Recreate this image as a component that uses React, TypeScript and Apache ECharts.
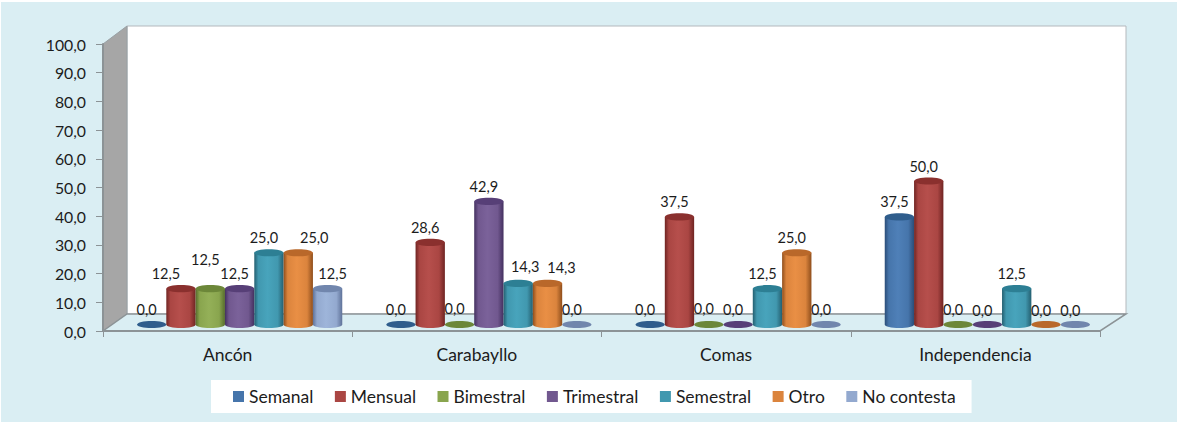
import React, { useEffect, useRef } from "react";
import * as echarts from "echarts";

const categories = ["Ancón", "Carabayllo", "Comas", "Independencia"];
const seriesNames = ["Semanal", "Mensual", "Bimestral", "Trimestral", "Semestral", "Otro", "No contesta"];
const semanal = [0, 0, 0, 37.5];
const mensual = [12.5, 28.6, 37.5, 50];
const bimestral = [12.5, 0, 0, 0];
const trimestral = [12.5, 42.9, 0, 0];
const semestral = [25, 14.3, 12.5, 12.5];
const otro = [25, 14.3, 25, 0];
const noContesta = [12.5, 0, 0, 0];
const seriesValues = [semanal, mensual, bimestral, trimestral, semestral, otro, noContesta];
const yTicks = [0, 10, 20, 30, 40, 50, 60, 70, 80, 90, 100];

const bodyColors = ["#4675ab", "#aa4643", "#89a54e", "#71588f", "#4198af", "#db843d", "#93a9cf"];
const topColors = ["#2f5d8c", "#8a302e", "#6c8739", "#573f77", "#2d7f94", "#b9682a", "#7186ad"];
const darkEdges = ["#2a4d78", "#6f2422", "#566c2c", "#43305f", "#245f70", "#8f4e1c", "#5f7299"];
const lightMids = ["#4f80b8", "#b64f4c", "#94b058", "#7b629a", "#48a4bc", "#e98f45", "#9eb5da"];

// Hand-placed data labels in the reference: [category, series, dx, dy] relative to the default spot
const labelNudges: number[][] = [
  [0, 1, -10, 0],
  [0, 2, 0, -14],
  [0, 5, 21, 0],
  [0, 6, 10, 0],
  [1, 2, 0, -1],
  [1, 4, 12, -2],
  [1, 5, 19, -1],
  [2, 2, 0, -1],
  [3, 3, 0, 1],
  [3, 5, 0, 1],
  [3, 6, 0, 1],
];

const FONT = "Lato";
const TEXT = "#1c1c1c";
const depthX = 12;
const depthY = -6.5;

function fmt(v: number) {
  return v.toFixed(1).replace(".", ",");
}

function renderCylinder(seriesIndex: number) {
  return (params: any, api: any) => {
    const cat = api.value(0);
    const val = api.value(1);
    const band = api.size([1, 0])[0];
    const step = band / 8.5;
    const top = api.coord([cat, val]);
    const base = api.coord([cat, 0]);
    const cx = top[0] + depthX + (seriesIndex - 3) * step;
    const yTop = top[1] + depthY;
    const yBase = base[1] + depthY;
    const rx = step / 2;
    const ry = 3.6;
    const fill = new echarts.graphic.LinearGradient(0, 0, 1, 0, [
      { offset: 0, color: darkEdges[seriesIndex] },
      { offset: 0.14, color: bodyColors[seriesIndex] },
      { offset: 0.45, color: lightMids[seriesIndex] },
      { offset: 0.8, color: bodyColors[seriesIndex] },
      { offset: 1, color: darkEdges[seriesIndex] },
    ]);
    const children: any[] = [];
    if (val > 0) {
      children.push({
        type: "ellipse",
        shape: { cx, cy: yBase, rx, ry },
        style: { fill },
      });
      children.push({
        type: "rect",
        shape: { x: cx - rx, y: yTop, width: step, height: yBase - yTop },
        style: { fill },
      });
    }
    children.push({
      type: "ellipse",
      shape: { cx, cy: yTop, rx, ry },
      style: { fill: topColors[seriesIndex] },
    });
    const nudge = labelNudges.find((n) => n[0] === cat && n[1] === seriesIndex);
    children.push({
      type: "text",
      z2: 100,
      style: {
        text: fmt(val),
        x: cx - 5 + (nudge ? nudge[2] : 0),
        y: yTop - 15 + (nudge ? nudge[3] : 0),
        align: "center",
        verticalAlign: "middle",
        fontFamily: FONT,
        fontSize: 14.5,
        fill: TEXT,
      },
    });
    return { type: "group", children };
  };
}

export default function App() {
  const ref = useRef<HTMLDivElement>(null);
  useEffect(() => {
    document.body.style.margin = "0";
    const chart = echarts.init(ref.current!, undefined, { renderer: "svg" });
    chart.setOption({
      animation: false,
      backgroundColor: "#ffffff",
      graphic: {
        elements: [
          { type: "rect", z: -10, shape: { x: 1, y: 2, width: 1176, height: 420 }, style: { fill: "#daeef3" } },
          { type: "rect", z: -9, shape: { x: 127, y: 26, width: 999, height: 288 }, style: { fill: "#ffffff", stroke: "#b4b9bd", lineWidth: 1 } },
          { type: "polygon", z: -8, shape: { points: [[103, 44], [127, 26], [127, 314], [103, 331]] }, style: { fill: "#a6a6a6", stroke: "#98a0a4", lineWidth: 1 } },
          { type: "polygon", z: -8, shape: { points: [[103, 331], [127, 314], [1126, 314], [1100, 331]] }, style: { fill: "#daeef3", stroke: "#8c9396", lineWidth: 1.5 } },
        ],
      },
      grid: { left: 103, right: 79, top: 44, height: 287, containLabel: false },
      legend: {
        left: 211,
        top: 380,
        padding: [6, 16, 6, 22],
        backgroundColor: "#ffffff",
        itemWidth: 11,
        itemHeight: 11,
        itemGap: 21.5,
        icon: "rect",
        data: seriesNames,
        selectedMode: false,
        textStyle: { fontFamily: FONT, fontSize: 17.5, lineHeight: 21, color: TEXT },
      },
      xAxis: {
        type: "category",
        data: categories,
        z: 1,
        axisLine: { lineStyle: { color: "#8c9396", width: 2 } },
        axisTick: { show: true, length: 6, lineStyle: { color: "#8c9396", width: 1 } },
        axisLabel: { fontFamily: FONT, fontSize: 17.5, color: TEXT, margin: 14 },
        splitLine: { show: false },
      },
      yAxis: {
        type: "value",
        min: yTicks[0],
        max: yTicks[yTicks.length - 1],
        interval: 10,
        z: 1,
        axisLine: { show: true, lineStyle: { color: "#8c9396", width: 2 } },
        axisTick: { show: true, length: 7, lineStyle: { color: "#8c9396", width: 1 } },
        axisLabel: { fontFamily: FONT, fontSize: 15.8, color: TEXT, margin: 17, formatter: (v: number) => fmt(v) },
        splitLine: { show: false },
      },
      series: seriesNames.map((name, i) => ({
        name,
        type: "custom",
        z: 5,
        clip: false,
        itemStyle: { color: bodyColors[i] },
        encode: { x: 0, y: 1 },
        renderItem: renderCylinder(i),
        data: seriesValues[i].map((v, c) => [c, v]),
      })),
    });
    return () => chart.dispose();
  }, []);
  return <div ref={ref} style={{ width: 1179, height: 423 }} />;
}
